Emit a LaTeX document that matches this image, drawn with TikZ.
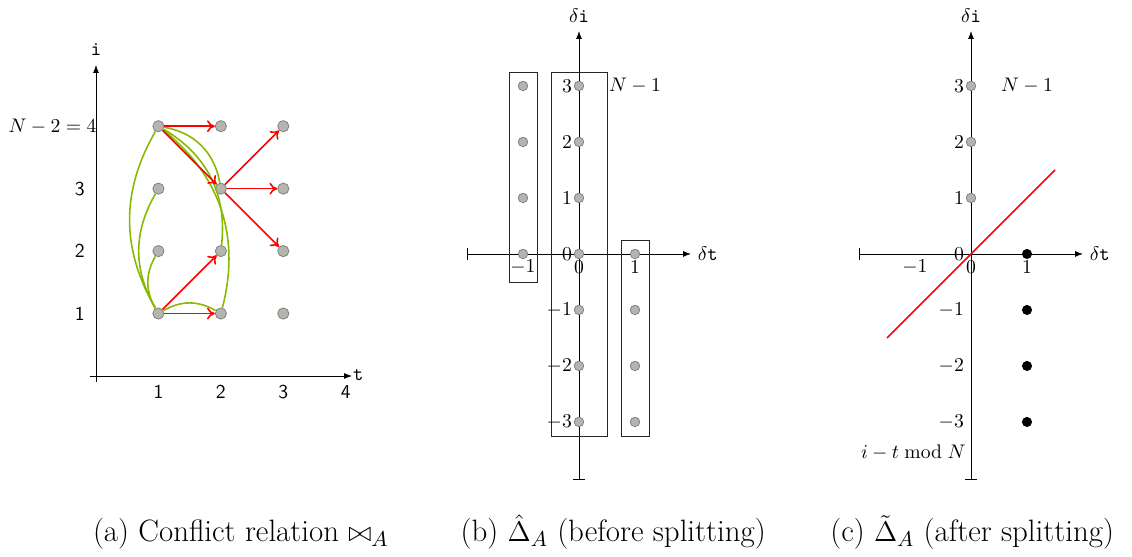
\documentclass[tikz,border=0pt]{standalone}
\usepackage{amsmath,amssymb}
\usepackage{tikz}
\usetikzlibrary{arrows.meta,positioning}
\definecolor{confgreen}{RGB}{135,185,0}
\definecolor{dotgray}{RGB}{180,182,174}

\begin{document}
\begin{tikzpicture}[
    dot/.style={circle, draw=gray, fill=dotgray, inner sep=0pt, minimum size=1.7mm},
    bigdot/.style={dot, minimum size=2mm},
    bdot/.style={circle, fill=black, inner sep=0pt, minimum size=1.8mm},
    axis/.style={-{Latex[length=4pt,width=3pt]}},
    baxis/.style={{Bar[width=6pt]}-{Latex[length=4pt,width=3pt]}},
    arr/.style={-{To[length=4pt,width=6pt]}, red, thick},
    conf/.style={confgreen, thick, bend left=30},
    colbox/.style={draw=black!85, thin},
    tick/.style={font=\sffamily},
    ylab/.style={anchor=east, inner sep=1pt},
    captext/.style={anchor=base, inner sep=1pt, font=\fontsize{15.7}{18}\selectfont}
]
\useasboundingbox (0,0) rectangle (20.214,9.946);

% (a) conflict relation
\begin{scope}[shift={(1.714,3.232)}, x=1.115cm, y=1.115cm]
\coordinate (a-x0) at (-0.1,0);
\coordinate (a-x1) at (4.1,0);
\coordinate (a-y0) at (0,-0.1);
\coordinate (a-y1) at (0,4.98);
\draw[axis] (a-x0) -- (a-x1);
\draw[axis] (a-y0) -- (a-y1);
\node (a-t) at (4.2,0.02) {\texttt{t}};
\node (a-i) at (0,5.22) {\texttt{i}};
\node[tick] (a-t1) at (1,-0.26) {1};
\node[tick] (a-t2) at (2,-0.26) {2};
\node[tick] (a-t3) at (3,-0.26) {3};
\node[tick] (a-t4) at (4,-0.26) {4};
\node[tick] (a-i1) at (-0.26,1) {1};
\node[tick] (a-i2) at (-0.26,2) {2};
\node[tick] (a-i3) at (-0.26,3) {3};
\node[anchor=east] (a-i4) at (0.12,4) {$N-2=4$};

\node[bigdot] (a11) at (1,1) {};
\node[bigdot] (a12) at (1,2) {};
\node[bigdot] (a13) at (1,3) {};
\node[bigdot] (a14) at (1,4) {};
\node[bigdot] (a21) at (2,1) {};
\node[bigdot] (a22) at (2,2) {};
\node[bigdot] (a23) at (2,3) {};
\node[bigdot] (a24) at (2,4) {};
\node[bigdot] (a31) at (3,1) {};
\node[bigdot] (a32) at (3,2) {};
\node[bigdot] (a33) at (3,3) {};
\node[bigdot] (a34) at (3,4) {};

\draw[conf] (a11) to (a12);
\draw[conf] (a11) to (a13);
\draw[conf] (a11) to (a14);
\draw[conf] (a11) to (a21);
\draw[conf, bend left=35] (a14) to (a23);
\draw[conf, bend left=33] (a14) to (a22);
\draw[conf, bend left=33] (a14) to (a21);

\draw[arr] (a14) -- (a24);
\draw[arr] (a14) -- (a23);
\draw[arr] (a23) -- (a34);
\draw[arr] (a23) -- (a33);
\draw[arr] (a23) -- (a32);
\draw[arr] (a11) -- (a22);
\draw[arr] (a11) -- (a21);
\end{scope}

% (b) before splitting
\begin{scope}[shift={(10.339,5.411)}]
\coordinate (b-x0) at (-2,0);
\coordinate (b-x1) at (2,0);
\coordinate (b-y0) at (0,-4.04);
\coordinate (b-y1) at (0,3.98);
\draw[baxis] (b-x0) -- (b-x1);
\draw[baxis] (b-y0) -- (b-y1);
\node (b-dt) at (2.3,0) {$\delta\texttt{t}$};
\node (b-di) at (0,4.25) {$\delta\texttt{i}$};

\draw[colbox] (-1.25,-0.5) rectangle (-0.75,3.25);
\draw[colbox] (-0.5,-3.25) rectangle (0.5,3.25);
\draw[colbox] (0.75,-3.25) rectangle (1.25,0.25);

\node[dot] (bl0) at (-1,0) {};
\node[dot] (bl1) at (-1,1) {};
\node[dot] (bl2) at (-1,2) {};
\node[dot] (bl3) at (-1,3) {};
\node[dot] (bm3) at (0,3) {};
\node[dot] (bm2) at (0,2) {};
\node[dot] (bm1) at (0,1) {};
\node[dot] (bm0) at (0,0) {};
\node[dot] (bm-1) at (0,-1) {};
\node[dot] (bm-2) at (0,-2) {};
\node[dot] (bm-3) at (0,-3) {};
\node[dot] (br0) at (1,0) {};
\node[dot] (br-1) at (1,-1) {};
\node[dot] (br-2) at (1,-2) {};
\node[dot] (br-3) at (1,-3) {};

\node[ylab] (b-l3) at (-0.085,3) {$3$};
\node[ylab] (b-l2) at (-0.085,2) {$2$};
\node[ylab] (b-l1) at (-0.085,1) {$1$};
\node[ylab] (b-l0) at (-0.085,0) {$0$};
\node[ylab] (b-l-1) at (-0.085,-1) {$-1$};
\node[ylab] (b-l-2) at (-0.085,-2) {$-2$};
\node[ylab] (b-l-3) at (-0.085,-3) {$-3$};
\node (b-x-1) at (-1,-0.24) {$-1$};
\node (b-x0l) at (0,-0.24) {$0$};
\node (b-x1l) at (1,-0.24) {$1$};
\node (b-n) at (1.0,3) {$N-1$};
\end{scope}

% (c) after splitting
\begin{scope}[shift={(17.339,5.411)}]
\coordinate (c-x0) at (-2,0);
\coordinate (c-x1) at (2,0);
\coordinate (c-y0) at (0,-4.04);
\coordinate (c-y1) at (0,3.98);
\draw[baxis] (c-x0) -- (c-x1);
\draw[baxis] (c-y0) -- (c-y1);
\node (c-dt) at (2.3,0) {$\delta\texttt{t}$};
\node (c-di) at (0,4.25) {$\delta\texttt{i}$};

\coordinate (c-r0) at (-1.5,-1.5);
\coordinate (c-r1) at (1.5,1.5);
\draw[red, thick] (c-r0) -- (c-r1);

\node[dot] (cm3) at (0,3) {};
\node[dot] (cm2) at (0,2) {};
\node[dot] (cm1) at (0,1) {};
\node[bdot] (cr0) at (1,0) {};
\node[bdot] (cr-1) at (1,-1) {};
\node[bdot] (cr-2) at (1,-2) {};
\node[bdot] (cr-3) at (1,-3) {};

\node[ylab] (c-l3) at (-0.085,3) {$3$};
\node[ylab] (c-l2) at (-0.085,2) {$2$};
\node[ylab] (c-l1) at (-0.085,1) {$1$};
\node[ylab] (c-l0) at (-0.085,0) {$0$};
\node[ylab] (c-l-1) at (-0.085,-1) {$-1$};
\node[ylab] (c-l-2) at (-0.085,-2) {$-2$};
\node[ylab] (c-l-3) at (-0.085,-3) {$-3$};
\node (c-x-1) at (-1,-0.24) {$-1$};
\node (c-x0l) at (0,-0.24) {$0$};
\node (c-x1l) at (1,-0.24) {$1$};
\node (c-n) at (1.0,3) {$N-1$};
\node (c-mod) at (-1.03,-3.54) {$i-t \bmod N$};
\end{scope}

% captions
\node[captext] (cap-a) at (4.30,0.28) {(a) Conflict relation $\bowtie_A$};
\node[captext] (cap-b) at (10.95,0.28) {(b) $\hat{\Delta}_A$ (before splitting)};
\node[captext] (cap-c) at (17.36,0.28) {(c) $\tilde{\Delta}_A$ (after splitting)};
\end{tikzpicture}
\end{document}
